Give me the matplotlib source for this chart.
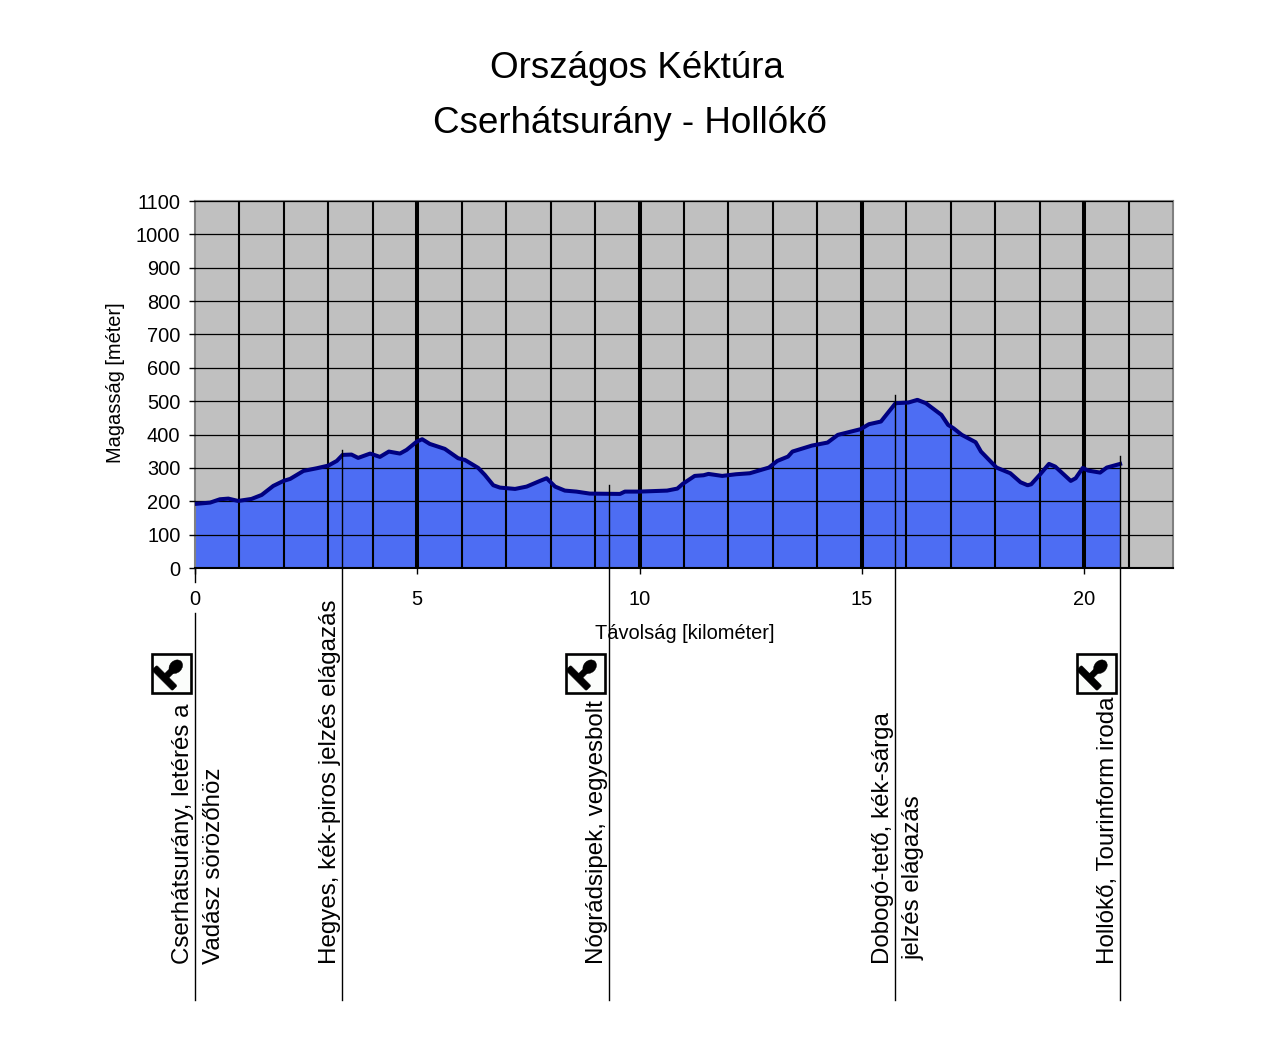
import matplotlib
matplotlib.use("Agg")
import matplotlib.pyplot as plt
from matplotlib import patches
from matplotlib.transforms import Affine2D, blended_transform_factory

plt.rcParams['font.family'] = ['Liberation Sans', 'DejaVu Sans']

# profil: tavolsag [km], magassag [m]
dist_km = [0.00, 0.34, 0.56, 0.75, 0.97, 1.27, 1.50, 1.76, 1.99, 2.14, 2.44, 2.74, 3.00, 3.19, 3.32,
           3.52, 3.67, 3.94, 4.16, 4.36, 4.61, 4.76, 4.99, 5.11, 5.28, 5.62, 5.92, 6.07, 6.37, 6.52,
           6.71, 6.86, 7.20, 7.46, 7.76, 7.91, 8.10, 8.32, 8.58, 8.88, 9.56, 9.67, 10.00, 10.62, 10.85,
           10.97, 11.24, 11.44, 11.55, 11.86, 12.17, 12.48, 12.91, 13.10, 13.34, 13.44, 13.88, 14.23,
           14.46, 14.97, 15.16, 15.43, 15.76, 16.05, 16.25, 16.44, 16.79, 16.94, 17.06, 17.25, 17.56,
           17.68, 18.03, 18.34, 18.57, 18.73, 18.81, 19.00, 19.21, 19.35, 19.70, 19.81, 19.97, 20.09,
           20.36, 20.51, 20.81]
height_m = [192, 196, 206, 208, 201, 207, 219, 246, 261, 267, 291, 299, 307, 321, 339,
            340, 330, 343, 333, 349, 343, 354, 379, 386, 372, 357, 329, 324, 300, 279,
            248, 241, 237, 244, 261, 269, 244, 232, 229, 223, 222, 229, 229, 232, 238,
            252, 276, 278, 282, 276, 281, 284, 301, 321, 334, 349, 367, 376,
            399, 416, 431, 439, 494, 496, 504, 494, 459, 429, 419, 399, 377,
            349, 301, 284, 257, 248, 251, 279, 312, 304, 261, 269, 300, 292,
            286, 301, 312]

# allomasok
stop_km = [0, 3.31, 9.31, 15.74, 20.8]
stop_top_m = [0, 355, 250, 520, 335]
stop_labels = [["Cserhátsurány, letérés a", "Vadász sörözőhöz"],
               ["Hegyes, kék-piros jelzés elágazás"],
               ["Nógrádsipek, vegyesbolt"],
               ["Dobogó-tető, kék-sárga", "jelzés elágazás"],
               ["Hollókő, Tourinform iroda"]]
stamp_km = [0, 9.31, 20.8]

W, H = 1280, 1050
fig = plt.figure(figsize=(W / 100, H / 100), dpi=100, facecolor='white')
ax = fig.add_axes([195 / W, 1 - 568 / H, (1173 - 195) / W, (568 - 201) / H])
ax.set_facecolor('#c0c0c0')
ax.set_xlim(0, 22)
ax.set_ylim(0, 1100)

ax.fill_between(dist_km, height_m, 0, color='#4d6df3', lw=0, zorder=1)
ax.set_yticks(range(0, 1101, 100))
ax.set_xticks(range(0, 21, 5))
ax.grid(axis='y', color='black', lw=0.9, zorder=2)
ax.set_axisbelow(False)
for km in range(1, 22):
    ax.axvline(km, color='black', lw=2.9 if km % 5 == 0 else 1.5, zorder=2)
ax.plot(dist_km, height_m, color='#000080', lw=2.9, zorder=3, solid_joinstyle='round')

for s in ax.spines.values():
    s.set_color('#808080')
    s.set_linewidth(1.5)
ax.spines['bottom'].set_color('black')
ax.tick_params(axis='both', which='major', labelsize=14.4, length=4.5, width=1, color='black')
ax.tick_params(axis='x', pad=11)
ax.tick_params(axis='y', pad=6)

ax.set_xlabel("Távolság [kilométer]", fontsize=14.4)
ax.xaxis.set_label_coords(0.501, -0.153)
ax.set_ylabel("Magasság [méter]", fontsize=14.4)
ax.yaxis.set_label_coords(-0.0715, 0.505)

fig.text(637 / W, 1 - 68.5 / H, "Országos Kéktúra", ha='center', va='center', fontsize=26.5)
fig.text(630 / W, 1 - 123.5 / H, "Cserhátsurány - Hollókő", ha='center', va='center', fontsize=26.5)

# szakasz vonalak es feliratok
trans = blended_transform_factory(ax.transData, fig.transFigure)
for km, top, labels in zip(stop_km, stop_top_m, stop_labels):
    if km == 0:
        # a 0 felirat megszakitja a vonalat
        ax.plot([km, km], [1 - 568 / H, 1 - 582 / H], transform=trans, color='black', lw=1, clip_on=False)
        ax.plot([km, km], [1 - 613 / H, 1 - 1000 / H], transform=trans, color='black', lw=1, clip_on=False)
    else:
        y0 = ax.transData.transform((km, top))[1] / H
        ax.plot([km, km], [y0, 1 - 1000 / H], transform=trans, color='black', lw=1, clip_on=False, zorder=4)
    for i, line in enumerate(labels):
        bottom = 960 if line.startswith("jelzés") else 964
        ax.text(km, 1 - bottom / H, line, transform=trans + Affine2D().translate(-12 + 31 * i, 0),
                rotation=90, ha='center', va='bottom', fontsize=17.4, clip_on=False)


def draw_stamp(km):
    # pecset ikon, a vonaltol balra
    cx = ax.transData.transform((km, 0))[0] - 23.5
    cy = H - 673
    t = Affine2D().rotate_deg(45).translate(cx - 7, cy - 5)
    fig.add_artist(patches.Rectangle((cx - 19.5, cy - 19.5), 39, 39, fc='#fbfdfb', ec='black', lw=1.9,
                                     transform=None))
    fig.add_artist(patches.FancyBboxPatch((-3.5, -14.5), 7, 29, boxstyle="round,pad=0,rounding_size=1.5",
                                          fc='black', ec='black', lw=0.3, transform=t))
    fig.add_artist(patches.Rectangle((3, -3), 10, 6, fc='black', ec='black', lw=0.3, transform=t))
    fig.add_artist(patches.Ellipse((16, 0), 15, 12, fc='black', ec='black', lw=0.3, transform=t))


for km in stamp_km:
    draw_stamp(km)

fig.savefig("out.png", dpi=100)
